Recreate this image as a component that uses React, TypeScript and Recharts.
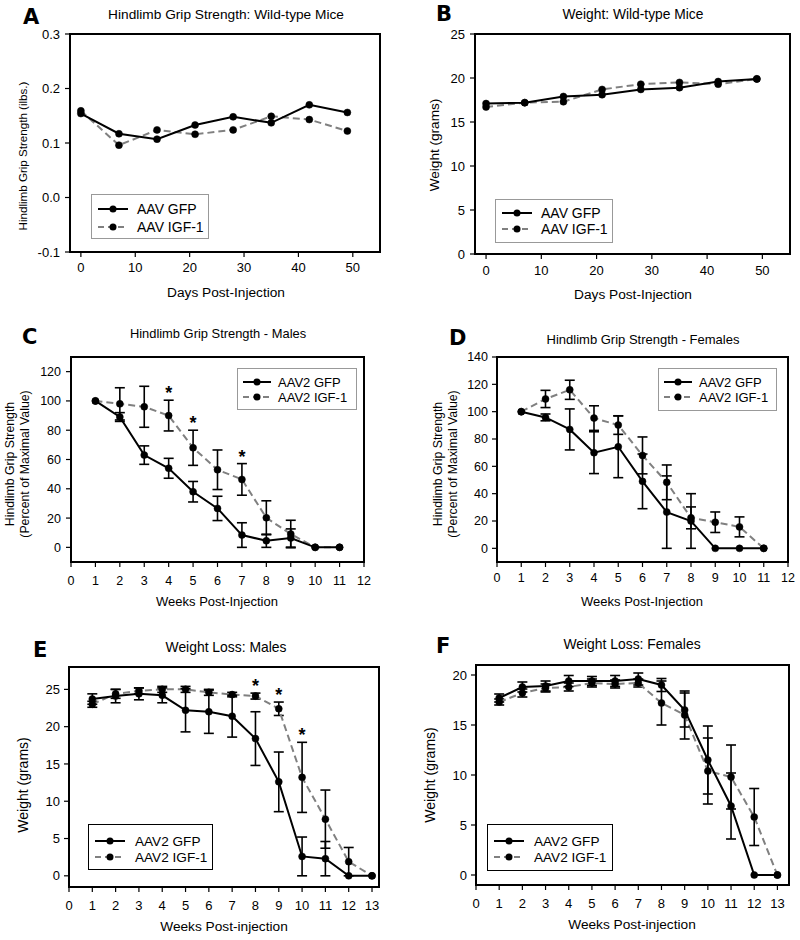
import React from "react";
import { LineChart, Line, XAxis, YAxis, ErrorBar, ReferenceDot } from "recharts";

const FONT = '"Liberation Sans", Arial, Helvetica, sans-serif';
const LETTER_FONT = '"DejaVu Sans", "Liberation Sans", sans-serif';

const SERIES_WT = ["AAV GFP", "AAV IGF-1"];
const SERIES_AAV2 = ["AAV2 GFP", "AAV2 IGF-1"];

// A / B: wild-type mice, days post-injection
const DAYS = [0, 7, 14, 21, 28, 35, 42, 49];
const gripWtGfp = [0.154, 0.117, 0.107, 0.133, 0.148, 0.137, 0.17, 0.156];
const gripWtIgf = [0.159, 0.096, 0.124, 0.116, 0.124, 0.149, 0.143, 0.122];
const weightWtGfp = [17.1, 17.2, 17.9, 18.1, 18.7, 18.9, 19.6, 19.9];
const weightWtIgf = [16.7, 17.2, 17.3, 18.7, 19.3, 19.5, 19.3, 19.9];

// C / D: grip strength, % of maximal value
const WEEKS_11 = [1, 2, 3, 4, 5, 6, 7, 8, 9, 10, 11];
const gripMaleGfp = [100, 89, 63, 54, 38, 26.6, 8.4, 4.5, 6.4, 0, 0];
const gripMaleGfpSem = [null, 3, 6.3, 6.8, 7, 8.3, 8.4, 4.5, 6.2, null, null];
const gripMaleIgf = [100, 98, 96, 90, 68, 53, 46.4, 20.2, 9.1, 0, 0];
const gripMaleIgfSem = [null, 11, 14, 10.5, 12, 13.5, 10.8, 11.6, 9.4, null, null];
const gripMaleStars = [4, 5, 7];

const gripFemaleGfp = [100, 95.8, 87, 70, 74.3, 49, 26.5, 20, 0, 0, 0];
const gripFemaleGfpSem = [null, 2.5, 15, 15.3, 22.6, 20, 26.5, 20, null, null, null];
const gripFemaleIgf = [100, 109.3, 116, 95.3, 90.2, 68, 48.3, 22.3, 19.1, 15.7, 0];
const gripFemaleIgfSem = [null, 6.3, 7, 9, 6.8, 13.5, 12.7, 8, 7.5, 7.3, null];

// E / F: body weight (grams)
const WEEKS_13 = [1, 2, 3, 4, 5, 6, 7, 8, 9, 10, 11, 12, 13];
const weightMaleGfp = [23.7, 24.1, 24.4, 24.2, 22.2, 22.0, 21.4, 18.4, 12.6, 2.6, 2.3, 0, 0];
const weightMaleGfpSem = [0.7, 0.9, 0.8, 1.0, 2.9, 2.9, 2.8, 3.6, 4.0, 2.6, 2.3, null, null];
const weightMaleIgf = [23.0, 24.4, 24.8, 25.0, 25.0, 24.6, 24.3, 24.1, 22.4, 13.2, 7.6, 1.9, 0];
const weightMaleIgfSem = [0.4, 0.6, 0.4, 0.4, 0.4, 0.4, 0.3, 0.4, 0.9, 4.7, 3.9, 1.9, null];
const weightMaleStars = [8, 9, 10];

const weightFemaleGfp = [17.7, 18.8, 18.9, 19.4, 19.4, 19.4, 19.6, 19.0, 16.5, 11.5, 6.9, 0, 0];
const weightFemaleGfpSem = [0.4, 0.5, 0.5, 0.55, 0.45, 0.55, 0.6, 0.65, 1.7, 3.4, 3.3, null, null];
const weightFemaleIgf = [17.3, 18.2, 18.7, 18.8, 19.2, 19.1, 19.2, 17.2, 16.0, 10.4, 9.8, 5.8, 0];
const weightFemaleIgfSem = [0.3, 0.4, 0.4, 0.4, 0.4, 0.4, 0.4, 2.2, 2.4, 3.3, 3.2, 2.85, null];

// ticks
const TICKS_DAYS = [0, 10, 20, 30, 40, 50];
const TICKS_W12 = [0, 1, 2, 3, 4, 5, 6, 7, 8, 9, 10, 11, 12];
const TICKS_W13 = [0, 1, 2, 3, 4, 5, 6, 7, 8, 9, 10, 11, 12, 13];
const TICKS_GRIP_WT = [-0.1, 0, 0.1, 0.2, 0.3];
const TICKS_WEIGHT_WT = [0, 5, 10, 15, 20, 25];
const TICKS_PCT_M = [0, 20, 40, 60, 80, 100, 120];
const TICKS_PCT_F = [0, 20, 40, 60, 80, 100, 120, 140];
const TICKS_WEIGHT_M = [0, 5, 10, 15, 20, 25];
const TICKS_WEIGHT_F = [0, 5, 10, 15, 20];

type Row = { x: number; gfp: number; igf: number; gfpErr: number | null; igfErr: number | null };

const makeRows = (
  xs: number[],
  gfp: number[],
  igf: number[],
  gfpErr?: (number | null)[],
  igfErr?: (number | null)[]
): Row[] =>
  xs.map((x, i) => ({
    x,
    gfp: gfp[i],
    igf: igf[i],
    gfpErr: gfpErr ? gfpErr[i] : null,
    igfErr: igfErr ? igfErr[i] : null,
  }));

type Box = { l: number; r: number; t: number; b: number };
type Cell = { x: number; y: number; w: number; h: number };

// plot boxes (page pixels) of the six panels
const BOX_A: Box = { l: 70, r: 380, t: 34, b: 252 };
const BOX_B: Box = { l: 475, r: 790, t: 34, b: 254 };
const BOX_C: Box = { l: 71, r: 364, t: 357, b: 562 };
const BOX_D: Box = { l: 497, r: 788, t: 357, b: 562 };
const BOX_E: Box = { l: 69, r: 379, t: 667, b: 887 };
const BOX_F: Box = { l: 476, r: 789, t: 665, b: 885 };

interface PanelProps {
  cell: Cell;
  box: Box;
  data: Row[];
  names: string[];
  xDomain: [number, number];
  xTicks: number[];
  yDomain: [number, number];
  yTicks: number[];
  yFormat?: (v: number) => string;
  tickFont: number;
  xTickMargin: number;
  yTickMargin: number;
  errors?: boolean;
  stars?: number[];
}

const AXIS_LINE = { stroke: "#000", strokeWidth: 1.5 };

const Panel = (p: PanelProps) => {
  const margin = { top: p.box.t - p.cell.y, right: p.cell.x + p.cell.w - p.box.r, bottom: 0, left: 0 };
  const tick = { fill: "#000", fontSize: p.tickFont, fontFamily: FONT };
  const dot = { r: 3.5, fill: "#000", stroke: "#000", strokeWidth: 0.5, strokeDasharray: "" };
  return (
    <div style={{ position: "absolute", left: p.cell.x, top: p.cell.y }}>
      <LineChart width={p.cell.w} height={p.cell.h} data={p.data} margin={margin}>
        <XAxis
          type="number"
          dataKey="x"
          domain={p.xDomain}
          ticks={p.xTicks}
          allowDataOverflow
          interval={0}
          height={p.cell.y + p.cell.h - p.box.b}
          tickSize={5}
          tickMargin={p.xTickMargin}
          axisLine={AXIS_LINE}
          tickLine={{ stroke: "#000", strokeWidth: 1.2 }}
          tick={tick}
        />
        <YAxis
          type="number"
          domain={p.yDomain}
          ticks={p.yTicks}
          allowDataOverflow
          interval={0}
          width={p.box.l - p.cell.x}
          tickSize={5}
          tickMargin={p.yTickMargin}
          tickFormatter={p.yFormat}
          axisLine={AXIS_LINE}
          tickLine={{ stroke: "#000", strokeWidth: 1.2 }}
          tick={tick}
        />
        <Line
          name={p.names[1]}
          dataKey="igf"
          stroke="#808080"
          strokeWidth={2}
          strokeDasharray="7 4"
          dot={dot}
          activeDot={false}
          isAnimationActive={false}
        >
          {p.errors && <ErrorBar dataKey="igfErr" direction="y" width={5} stroke="#000" strokeWidth={1.6} />}
        </Line>
        <Line
          name={p.names[0]}
          dataKey="gfp"
          stroke="#000"
          strokeWidth={2}
          dot={dot}
          activeDot={false}
          isAnimationActive={false}
        >
          {p.errors && <ErrorBar dataKey="gfpErr" direction="y" width={5} stroke="#000" strokeWidth={1.6} />}
        </Line>
        {(p.stars || []).map((w) => {
          const row = p.data.find((d) => d.x === w)!;
          return (
            <ReferenceDot
              key={w}
              x={w}
              y={row.igf + (row.igfErr || 0)}
              r={0}
              fill="none"
              stroke="none"
              label={{ value: "*", position: "top", offset: 1, fill: "#000", fontSize: 18, fontWeight: 700, fontFamily: FONT }}
            />
          );
        })}
      </LineChart>
    </div>
  );
};

// box outline drawn over the plot area
const Frame = ({ box }: { box: Box }) => (
  <div
    style={{
      position: "absolute",
      left: box.l - 1,
      top: box.t - 1,
      width: box.r - box.l + 2,
      height: box.b - box.t + 2,
      border: "2px solid #000",
      boxSizing: "border-box",
    }}
  />
);

const Txt = ({
  x,
  y,
  size,
  rotate,
  children,
}: {
  x: number;
  y: number;
  size: number;
  rotate?: boolean;
  children: React.ReactNode;
}) => (
  <div
    style={{
      position: "absolute",
      left: x,
      top: y,
      transform: `translate(-50%, -50%)${rotate ? " rotate(-90deg)" : ""}`,
      fontSize: size,
      fontFamily: FONT,
      whiteSpace: "nowrap",
      lineHeight: 1.25,
      textAlign: "center",
      color: "#000",
    }}
  >
    {children}
  </div>
);

const Letter = ({ x, y, children }: { x: number; y: number; children: React.ReactNode }) => (
  <div
    style={{
      position: "absolute",
      left: x,
      top: y,
      transform: "translateY(-50%)",
      fontSize: 21,
      fontWeight: 700,
      fontFamily: LETTER_FONT,
      lineHeight: 1,
      color: "#000",
    }}
  >
    {children}
  </div>
);

const Key = ({
  l,
  t,
  r,
  b,
  names,
  rowY,
  lineX,
  textX,
  size,
  border,
}: {
  l: number;
  t: number;
  r: number;
  b: number;
  names: string[];
  rowY: number[];
  lineX: number[];
  textX: number;
  size: number;
  border: string;
}) => {
  const w = r - l;
  const h = b - t;
  const mid = (lineX[0] + lineX[1]) / 2;
  return (
    <div
      style={{
        position: "absolute",
        left: l,
        top: t,
        width: w,
        height: h,
        boxSizing: "border-box",
        border,
        background: "#fff",
      }}
    >
      <svg width={w} height={h} style={{ position: "absolute", left: -1, top: -1 }}>
        {names.map((n, i) => (
          <g key={n}>
            <line
              x1={lineX[0]}
              x2={lineX[1]}
              y1={rowY[i]}
              y2={rowY[i]}
              stroke={i === 0 ? "#000" : "#808080"}
              strokeWidth={2}
              strokeDasharray={i === 0 ? undefined : "6 4"}
            />
            <circle cx={mid} cy={rowY[i]} r={3.5} fill="#000" />
            <text x={textX} y={rowY[i]} dominantBaseline="central" fontSize={size} fontFamily={FONT} fill="#000">
              {n}
            </text>
          </g>
        ))}
      </svg>
    </div>
  );
};

const fmt1 = (v: number) => v.toFixed(1);

export default function App() {
  return (
    <div style={{ position: "absolute", left: 0, top: 0, width: 800, height: 940, background: "#fff" }}>
      {/* A */}
      <Panel
        cell={{ x: 0, y: 0, w: 400, h: 300 }}
        box={BOX_A}
        data={makeRows(DAYS, gripWtGfp, gripWtIgf)}
        names={SERIES_WT}
        xDomain={[-2, 55]}
        xTicks={TICKS_DAYS}
        yDomain={[-0.1, 0.3]}
        yTicks={TICKS_GRIP_WT}
        yFormat={fmt1}
        tickFont={13}
        xTickMargin={6}
        yTickMargin={5}
      />
      <Letter x={23} y={17}>A</Letter>
      <Txt x={226} y={15} size={13.7}>Hindlimb Grip Strength: Wild-type Mice</Txt>
      <Txt x={226} y={293} size={13.7}>Days Post-Injection</Txt>
      <Txt x={23} y={156} size={11.6} rotate>Hindlimb Grip Strength (ilbs.)</Txt>

      {/* B */}
      <Panel
        cell={{ x: 400, y: 0, w: 400, h: 300 }}
        box={BOX_B}
        data={makeRows(DAYS, weightWtGfp, weightWtIgf)}
        names={SERIES_WT}
        xDomain={[-2, 55]}
        xTicks={TICKS_DAYS}
        yDomain={[0, 25]}
        yTicks={TICKS_WEIGHT_WT}
        tickFont={13}
        xTickMargin={7}
        yTickMargin={5}
      />
      <Letter x={436} y={14}>B</Letter>
      <Txt x={633} y={15} size={13.8}>Weight: Wild-type Mice</Txt>
      <Txt x={633} y={295} size={13.7}>Days Post-Injection</Txt>
      <Txt x={435} y={145} size={13.6} rotate>Weight (grams)</Txt>

      {/* C */}
      <Panel
        cell={{ x: 0, y: 310, w: 400, h: 310 }}
        box={BOX_C}
        data={makeRows(WEEKS_11, gripMaleGfp, gripMaleIgf, gripMaleGfpSem, gripMaleIgfSem)}
        names={SERIES_AAV2}
        xDomain={[0, 12]}
        xTicks={TICKS_W12}
        yDomain={[-10, 130]}
        yTicks={TICKS_PCT_M}
        tickFont={12.5}
        xTickMargin={9}
        yTickMargin={5}
        errors
        stars={gripMaleStars}
      />
      <Letter x={22} y={337}>C</Letter>
      <Txt x={218} y={334} size={12.9}>Hindlimb Grip Strength - Males</Txt>
      <Txt x={217} y={602} size={13}>Weeks Post-Injection</Txt>
      <Txt x={18} y={464} size={12.3} rotate>
        Hindlimb Grip Strength
        <br />
        (Percent of Maximal Value)
      </Txt>

      {/* D */}
      <Panel
        cell={{ x: 400, y: 310, w: 400, h: 310 }}
        box={BOX_D}
        data={makeRows(WEEKS_11, gripFemaleGfp, gripFemaleIgf, gripFemaleGfpSem, gripFemaleIgfSem)}
        names={SERIES_AAV2}
        xDomain={[0, 12]}
        xTicks={TICKS_W12}
        yDomain={[-10, 140]}
        yTicks={TICKS_PCT_F}
        tickFont={12.5}
        xTickMargin={6}
        yTickMargin={4}
        errors
      />
      <Letter x={449} y={338}>D</Letter>
      <Txt x={643} y={340} size={13}>Hindlimb Grip Strength - Females</Txt>
      <Txt x={642} y={602} size={13}>Weeks Post-Injection</Txt>
      <Txt x={446} y={464} size={12.3} rotate>
        Hindlimb Grip Strength
        <br />
        (Percent of Maximal Value)
      </Txt>

      {/* E */}
      <Panel
        cell={{ x: 0, y: 630, w: 400, h: 310 }}
        box={BOX_E}
        data={makeRows(WEEKS_13, weightMaleGfp, weightMaleIgf, weightMaleGfpSem, weightMaleIgfSem)}
        names={SERIES_AAV2}
        xDomain={[0, 13.3]}
        xTicks={TICKS_W13}
        yDomain={[-1.5, 28]}
        yTicks={TICKS_WEIGHT_M}
        tickFont={13}
        xTickMargin={9}
        yTickMargin={4}
        errors
        stars={weightMaleStars}
      />
      <Letter x={33} y={650}>E</Letter>
      <Txt x={226} y={648} size={13.9}>Weight Loss: Males</Txt>
      <Txt x={224} y={927} size={13.7}>Weeks Post-injection</Txt>
      <Txt x={24} y={785} size={14} rotate>Weight (grams)</Txt>

      {/* F */}
      <Panel
        cell={{ x: 400, y: 630, w: 400, h: 310 }}
        box={BOX_F}
        data={makeRows(WEEKS_13, weightFemaleGfp, weightFemaleIgf, weightFemaleGfpSem, weightFemaleIgfSem)}
        names={SERIES_AAV2}
        xDomain={[0, 13.5]}
        xTicks={TICKS_W13}
        yDomain={[-1, 21]}
        yTicks={TICKS_WEIGHT_F}
        tickFont={13}
        xTickMargin={9}
        yTickMargin={4}
        errors
      />
      <Letter x={436} y={646}>F</Letter>
      <Txt x={632} y={645} size={13.9}>Weight Loss: Females</Txt>
      <Txt x={632} y={925} size={13.7}>Weeks Post-injection</Txt>
      <Txt x={431} y={775} size={14} rotate>Weight (grams)</Txt>

      {/* frames on top of the charts */}
      <Frame box={BOX_A} />
      <Frame box={BOX_B} />
      <Frame box={BOX_C} />
      <Frame box={BOX_D} />
      <Frame box={BOX_E} />
      <Frame box={BOX_F} />

      {/* legends */}
      <Key l={91} t={194} r={209} b={239} names={SERIES_WT} rowY={[15, 33]} lineX={[7, 37]} textX={46} size={14} border="1px solid #999" />
      <Key l={495} t={199} r={613} b={243} names={SERIES_WT} rowY={[14, 30]} lineX={[7, 37]} textX={46} size={14} border="1px solid #999" />
      <Key l={237} t={368} r={357} b={410} names={SERIES_AAV2} rowY={[14, 29]} lineX={[6, 34]} textX={41} size={13} border="1px solid #999" />
      <Key l={658} t={368} r={777} b={411} names={SERIES_AAV2} rowY={[14, 29]} lineX={[6, 34]} textX={41} size={13} border="1px solid #999" />
      <Key l={88} t={824} r={213} b={870} names={SERIES_AAV2} rowY={[17, 33]} lineX={[7, 37]} textX={47} size={13.6} border="1.5px solid #000" />
      <Key l={487} t={824} r={613} b={871} names={SERIES_AAV2} rowY={[17, 33]} lineX={[7, 37]} textX={47} size={13.6} border="1.5px solid #000" />
    </div>
  );
}
